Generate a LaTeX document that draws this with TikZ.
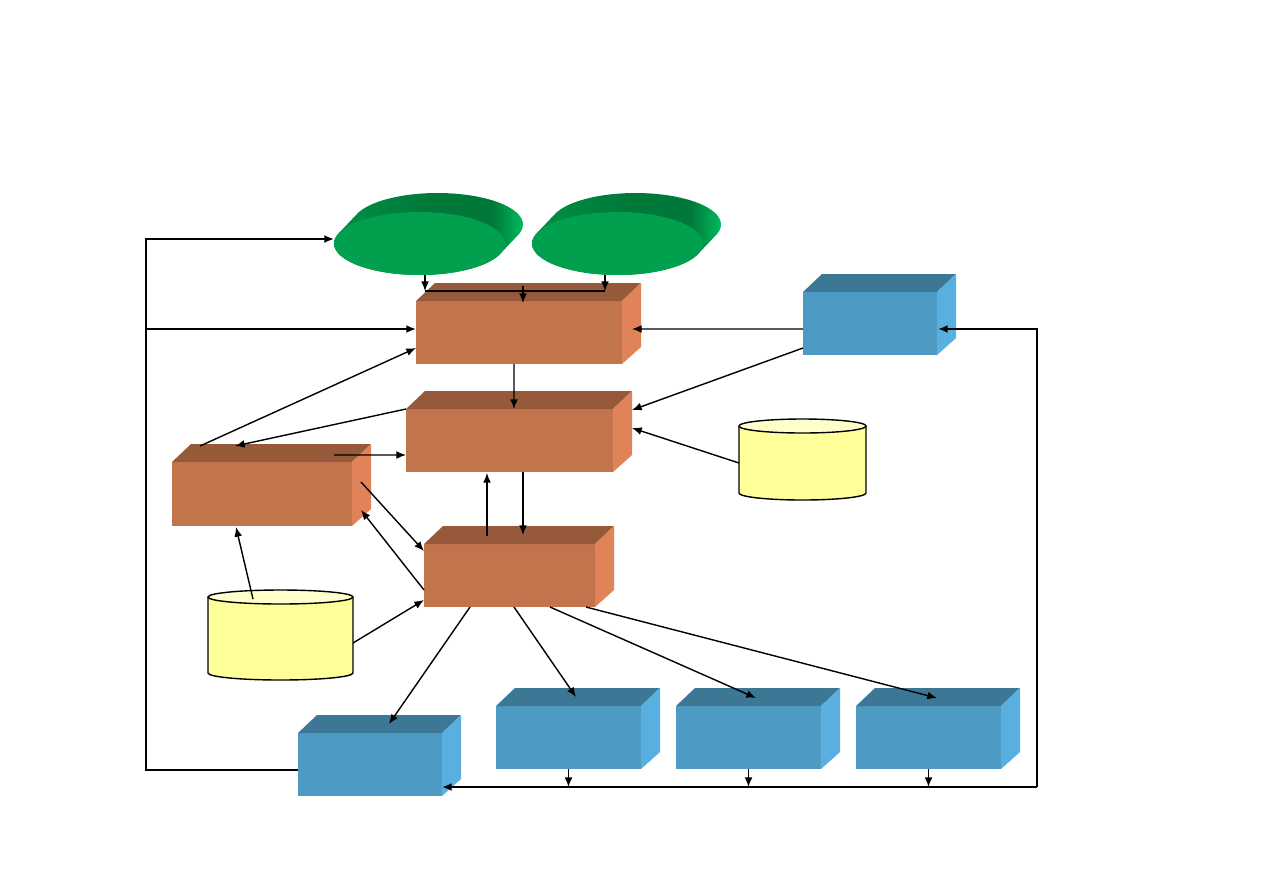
\documentclass[tikz,border=0pt]{standalone}
\usepackage{xcolor}
\usepackage{tikz}
\usetikzlibrary{shapes.geometric,arrows.meta,calc}

\definecolor{brickfront}{RGB}{194,117,77}
\definecolor{bricktop}{RGB}{150,90,58}
\definecolor{brickside}{RGB}{224,131,89}
\definecolor{steelfront}{RGB}{77,155,194}
\definecolor{steeltop}{RGB}{60,120,150}
\definecolor{steelside}{RGB}{90,175,225}
\definecolor{leafdark}{RGB}{0,120,58}
\definecolor{leafleft}{RGB}{0,145,70}
\definecolor{leaflight}{RGB}{0,188,94}
\definecolor{leafmid}{RGB}{0,160,78}
\definecolor{drumfill}{RGB}{255,255,153}
\definecolor{drumtop}{RGB}{255,255,204}

\pgfdeclarehorizontalshading{leafband}{100bp}{color(0bp)=(leafleft); color(25bp)=(leafleft);
  color(50bp)=(leafdark); color(67bp)=(leafdark); color(75bp)=(leaflight); color(100bp)=(leaflight)}

% box with top and right face, front face is the node
\newcommand{\cubebox}[5]{%
  \node[#5 front, minimum width=#3*0.02cm, minimum height=#4*0.02cm] (#1) at (#2) {};
  \fill[#5 top] (#1.north west) -- ++(19,-18) -- ($(#1.north east)+(19,-18)$) -- (#1.north east) -- cycle;
  \fill[#5 side] (#1.north east) -- ++(19,-18) -- ($(#1.south east)+(19,-17)$) -- (#1.south east) -- cycle;
}
% flat green disc
\newcommand{\leafdisc}[2]{%
  \shade[shading=leafband]
    \foreach \i in {0,...,19}{
      ($(#2)+({18*(1-\i/19)},{-19*(1-\i/19)})$) ellipse (1.71cm and 0.63cm)
    };
  \node[leaf disc] (#1) at (#2) {};
}
% data store
\newcommand{\drum}[5]{%
  \node[minimum width=#3*0.02cm, minimum height=#4*0.02cm, inner sep=0, outer sep=0] (#1) at (#2) {};
  \fill[drumfill] ($(#1.north west)+(0,7)$) rectangle ($(#1.south east)+(0,-7)$);
  \fill[drumfill] ($(#1.south)+(0,-7)$) ellipse (#5 and 0.14cm);
  \draw[drum line] ($(#1.north west)+(0,7)$) -- ($(#1.south west)+(0,-7)$)
     arc (180:360:#5 and 0.14cm) -- ($(#1.north east)+(0,7)$);
  \draw[drum line, fill=drumtop] ($(#1.north)+(0,7)$) ellipse (#5 and 0.14cm);
}

\begin{document}
\begin{tikzpicture}[
    x=0.02cm, y=-0.02cm,
    >={Latex[length=5.5pt,width=4.5pt]},
    brick front/.style={rectangle,fill=brickfront,inner sep=0,outer sep=0},
    brick top/.style={fill=bricktop},
    brick side/.style={fill=brickside},
    steel front/.style={rectangle,fill=steelfront,inner sep=0,outer sep=0},
    steel top/.style={fill=steeltop},
    steel side/.style={fill=steelside},
    leaf disc/.style={ellipse,fill=leafmid,minimum width=3.42cm,minimum height=1.26cm,inner sep=0,outer sep=0},
    drum line/.style={draw=black,line width=0.8pt},
    link/.style={->,line width=0.8pt},
    loop/.style={line width=1pt},
]
\useasboundingbox[fill=white] (0,0) rectangle (1263,893);

% sources
\leafdisc{g1}{419.5,243.5}
\leafdisc{g2}{617.5,243.5}

% processing blocks
\cubebox{A}{519,332.5}{206}{63}{brick}
\cubebox{B}{509.5,440.5}{207}{63}{brick}
\cubebox{C}{262,494}{180}{64}{brick}
\cubebox{D}{509.5,575.5}{171}{63}{brick}

% outputs
\cubebox{E}{870,323.5}{134}{63}{steel}
\cubebox{F}{370,764.5}{144}{63}{steel}
\cubebox{G}{568.5,737.5}{145}{63}{steel}
\cubebox{H}{748.5,737.5}{145}{63}{steel}
\cubebox{I}{928.5,737.5}{145}{63}{steel}

% stores
\drum{s1}{802.5,459.5}{127}{81}{1.27cm}
\drum{s2}{280.5,635}{145}{90}{1.45cm}

% feedback loops
\coordinate (lft) at (146,239);
\coordinate (lmid) at (146,329);
\coordinate (rb) at (1037,787);
\draw[loop,->] ($(F.west)+(0,5.5)$) -| (lft) -- (lft -| g1.west);
\draw[loop,->] (lmid) -- (lmid -| A.west);
\draw[loop,->] (rb) |- ($(E.east)+(1,5.5)$);
\draw[loop,->] (rb) -- (rb -| F.east);
\draw[link] (G.south) -- (G.south |- rb);
\draw[link] (H.south) -- (H.south |- rb);
\draw[link] (I.south) -- (I.south |- rb);

% sources into A
\coordinate (bus1) at (425,291);
\coordinate (bus2) at (605,291);
\draw[link] (g1.south -| bus1) -- (bus1);
\draw[link] (g2.south -| bus2) -- (bus2);
\draw[line width=0.8pt] (bus1) -- (bus2);
\draw[link] ($(A.north)+(4,-15)$) -- ($(A.north)+(4,2)$);

% block links
\draw[link] ($(A.south)+(-5,0)$) -- ($(B.north)+(4.5,0)$);
\draw[link] ($(E.west)+(0,5.5)$) -- ($(A.east)+(10,-3.5)$);
\draw[link] ($(E.south west)+(0,-7)$) -- ($(B.north east)+(19,1)$);
\draw[link] ($(s1.west)+(0,3.5)$) -- ($(B.east)+(19,-12.5)$);
\draw[link] ($(C.north west)+(28,-16)$) -- ($(A.west)+(0,15.5)$);
\draw[link] (B.north west) -- ($(C.north)+(-27,-16)$);
\draw[link] ($(C.north east)+(-18,-7)$) -- ($(B.west)+(0,14.5)$);
\draw[link] ($(C.east)+(9,-12)$) -- ($(D.north west)+(0,7)$);
\draw[link] ($(D.west)+(0,14.5)$) -- ($(C.east)+(9,16)$);
\draw[link] ($(s2.north)+(-27.5,9)$) -- ($(C.south)+(-26,1)$);
\draw[link] ($(s2.east)+(0,8)$) -- ($(D.south west)+(0,-7)$);
\draw[link] ($(D.north)+(-22.5,-8)$) -- ($(B.south)+(-22.5,1)$);
\draw[link] ($(B.south)+(13.5,0)$) -- ($(D.north)+(13.5,-9)$);

% fan out to outputs
\draw[link] ($(D.south)+(-39.5,0)$) -- ($(F.north)+(19,-9)$);
\draw[link] ($(D.south)+(4.5,0)$) -- ($(G.north)+(7.5,-9)$);
\draw[link] ($(D.south)+(40.5,0)$) -- ($(H.north)+(7.5,-8)$);
\draw[link] ($(D.south east)+(-9,0)$) -- ($(I.north)+(8.5,-8)$);
\end{tikzpicture}
\end{document}
